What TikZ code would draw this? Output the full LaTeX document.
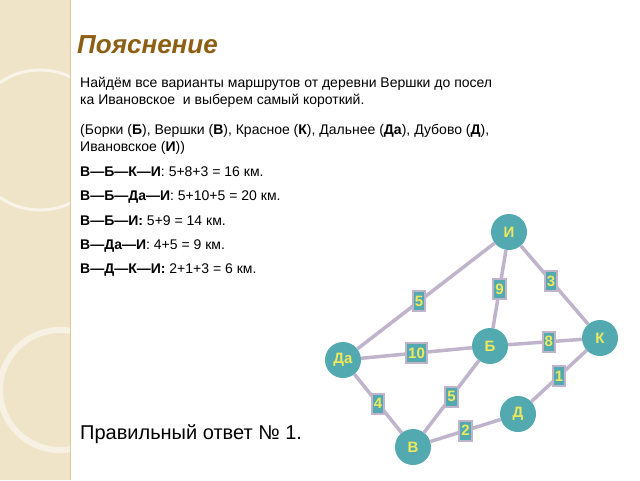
\documentclass[tikz,border=0pt]{standalone}
\usepackage{fontspec}
\setmainfont{Liberation Sans}
\begin{document}
\begin{tikzpicture}[x=1pt,y=-1pt,
  vert/.style={circle,fill=nodeteal,text=nodeyellow,minimum size=36pt,inner sep=0pt,font=\fontsize{15}{15}\selectfont\bfseries},
  elab/.style={fill=nodeteal,draw=edgegray,line width=2pt,text=nodeyellow,inner sep=2pt,minimum height=20pt,font=\fontsize{15}{15}\selectfont\bfseries},
  edge/.style={draw=edgegray,line width=3.5pt},
  txt/.style={anchor=west,inner sep=0pt,font=\fontsize{14}{17}\selectfont,align=left}]
\definecolor{nodeteal}{RGB}{82,170,176}
\definecolor{nodeyellow}{RGB}{240,232,90}
\definecolor{edgegray}{RGB}{192,180,204}
\definecolor{beige}{RGB}{240,228,200}
\definecolor{titlebrown}{RGB}{140,95,20}
\useasboundingbox (0,0) rectangle (640,480);
\fill[white] (0,0) rectangle (640,480);
\fill[beige] (0,0) rectangle (70,480);
\draw[white,line width=3pt,opacity=0.6] (40,140) circle (70);
\draw[white,line width=6pt,opacity=0.5] (60,390) circle (60);
\draw[beige!70!brown,line width=0.8pt] (70,0) -- (70,480);
\node[anchor=west,inner sep=0pt,text=titlebrown,font=\fontsize{26}{26}\selectfont\bfseries\itshape] (title) at (77,45) {Пояснение};
\node[txt] (t1) at (80,92) {Найдём все варианты маршрутов от деревни Вершки до посел\\ка Ивановское\ \ и выберем самый короткий.};
\node[txt] (t2) at (80,139) {(Борки (\textbf{Б}), Вершки (\textbf{В}), Красное (\textbf{К}), Дальнее (\textbf{Да}), Дубово (\textbf{Д}),\\Ивановское (\textbf{И}))};
\node[txt] (t3) at (80,172) {\textbf{В—Б—К—И}: 5+8+3 = 16 км.};
\node[txt] (t4) at (80,197) {\textbf{В—Б—Да—И}: 5+10+5 = 20 км.};
\node[txt] (t5) at (80,221) {\textbf{В—Б—И:} 5+9 = 14 км.};
\node[txt] (t6) at (80,246) {\textbf{В—Да—И}: 4+5 = 9 км.};
\node[txt] (t7) at (80,270) {\textbf{В—Д—К—И:} 2+1+3 = 6 км.};
\node[txt,font=\fontsize{20}{24}\selectfont] (ans) at (80,434) {Правильный ответ № 1.};
\node[vert] (I) at (509,232) {И};
\node[vert] (K) at (600,338) {К};
\node[vert] (B) at (490,346) {Б};
\node[vert] (Da) at (343,360) {Да};
\node[vert] (D) at (518,414) {Д};
\node[vert] (V) at (413,447) {В};
\path[edge] (I) -- node[elab,pos=0.55]{5} (Da);
\path[edge] (I) -- node[elab,pos=0.5]{9} (B);
\path[edge] (I) -- node[elab,pos=0.45]{3} (K);
\path[edge] (B) -- node[elab,pos=0.55]{8} (K);
\path[edge] (Da) -- node[elab,pos=0.5]{10} (B);
\path[edge] (D) -- node[elab,pos=0.5]{1} (K);
\path[edge] (V) -- node[elab,pos=0.5]{5} (B);
\path[edge] (Da) -- node[elab,pos=0.5]{4} (V);
\path[edge] (V) -- node[elab,pos=0.5]{2} (D);
\end{tikzpicture}
\end{document}
